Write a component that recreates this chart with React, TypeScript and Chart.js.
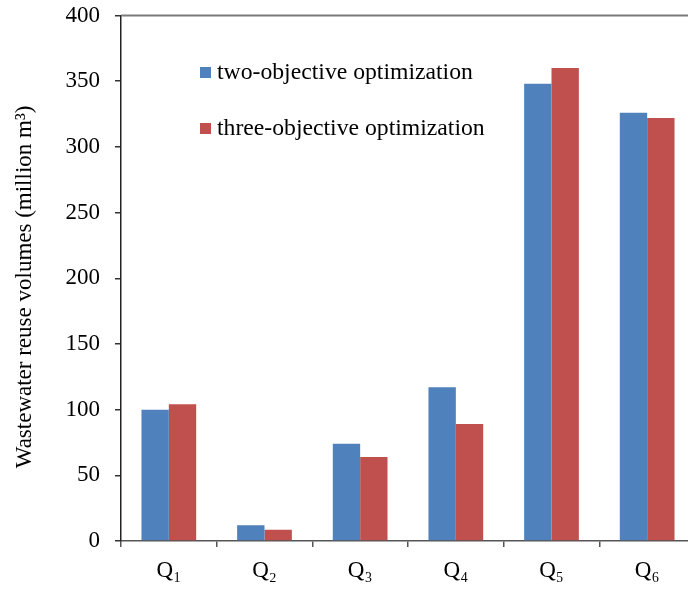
import React, { useEffect, useRef } from 'react';
import { Chart, registerables } from 'chart.js';

Chart.register(...registerables);

const categories = ['Q₁', 'Q₂', 'Q₃', 'Q₄', 'Q₅', 'Q₆'];
const seriesLabels = ['two-objective optimization', 'three-objective optimization'];
const twoObjective = [100, 12, 74, 117, 348, 326];
const threeObjective = [104, 8.5, 64, 89, 360, 322];
const yMin = 0;
const yMax = 400;
const yStep = 50;
const yTitle = 'Wastewater reuse volumes (million m³)\u00A0\u00A0\u00A0';
const seriesColors = ['#4F81BD', '#C0504D'];

const FONT = '"Liberation Serif", "Times New Roman", serif';

const insideLegend = {
  id: 'insideLegend',
  afterDraw(chart: any) {
    const { ctx, chartArea } = chart;
    ctx.save();
    ctx.font = `23.7px ${FONT}`;
    ctx.textBaseline = 'middle';
    chart.data.datasets.forEach((ds: any, i: number) => {
      const y = chartArea.top + 57 + i * 56;
      const x = chartArea.left + 79;
      ctx.fillStyle = ds.backgroundColor;
      ctx.fillRect(x, y - 5.5, 11, 11);
      ctx.fillStyle = '#000';
      ctx.fillText(ds.label, x + 17, y);
    });
    ctx.restore();
  },
};

const plotBorder = {
  id: 'plotBorder',
  afterDraw(chart: any) {
    const { ctx, chartArea } = chart;
    ctx.save();
    ctx.strokeStyle = '#7a7a7a';
    ctx.lineWidth = 2;
    ctx.beginPath();
    ctx.moveTo(chartArea.left, chartArea.top);
    ctx.lineTo(chartArea.right, chartArea.top);
    ctx.lineTo(chartArea.right, chartArea.bottom);
    ctx.stroke();
    ctx.restore();
  },
};

export default function App() {
  const ref = useRef<HTMLCanvasElement>(null);

  useEffect(() => {
    if (!ref.current) return;
    const chart = new Chart(ref.current, {
      type: 'bar',
      data: {
        labels: categories,
        datasets: [
          {
            label: seriesLabels[0],
            data: twoObjective,
            backgroundColor: seriesColors[0],
            barPercentage: 1,
            categoryPercentage: 0.572,
          },
          {
            label: seriesLabels[1],
            data: threeObjective,
            backgroundColor: seriesColors[1],
            barPercentage: 1,
            categoryPercentage: 0.572,
          },
        ],
      },
      options: {
        animation: false,
        responsive: false,
        events: [],
        layout: { padding: { left: 0, right: 25, top: 15.5, bottom: 0 } },
        plugins: {
          legend: { display: false },
          tooltip: { enabled: false },
        },
        scales: {
          x: {
            afterFit: (s: any) => {
              s.height = 49;
            },
            grid: {
              drawOnChartArea: false,
              offset: true,
              tickLength: 6,
              color: '#555',
              lineWidth: 1.5,
            },
            border: { color: '#555', width: 1.5 },
            ticks: {
              color: '#000',
              padding: 10,
              font: { family: FONT, size: 23 },
            },
          },
          y: {
            min: yMin,
            max: yMax,
            afterFit: (s: any) => {
              s.width = 121;
              s.paddingTop = 0;
              s.paddingBottom = 0;
            },
            ticks: {
              stepSize: yStep,
              color: '#000',
              padding: 15,
              font: { family: FONT, size: 23 },
            },
            grid: {
              drawOnChartArea: false,
              tickLength: 6,
              color: '#333',
              lineWidth: 1.5,
            },
            border: { color: '#222', width: 1.5 },
            title: {
              display: true,
              text: yTitle,
              color: '#000',
              padding: { top: 11, bottom: 0 },
              font: { family: FONT, size: 23 },
            },
          },
        },
      },
      plugins: [insideLegend, plotBorder],
    });
    return () => chart.destroy();
  }, []);

  return (
    <div
      style={{
        position: 'absolute',
        left: 0,
        top: 0,
        width: 688,
        height: 590,
        overflow: 'hidden',
        background: '#fff',
      }}
    >
      <canvas ref={ref} width={720} height={590} style={{ display: 'block' }} />
    </div>
  );
}
